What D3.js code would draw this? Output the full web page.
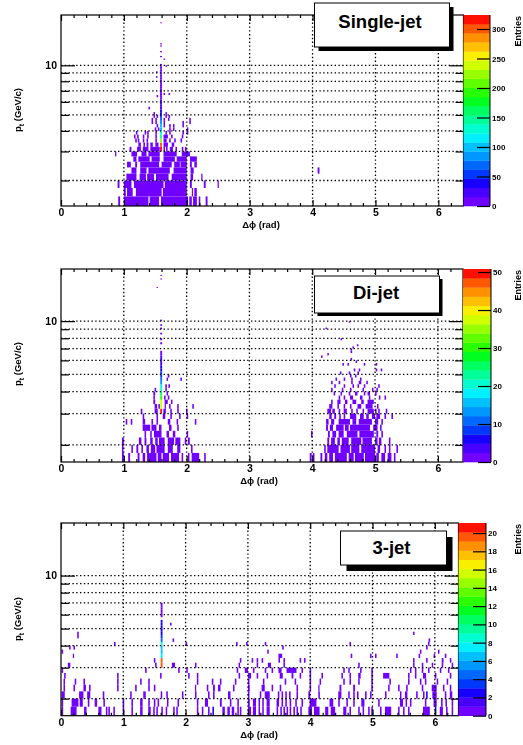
<!DOCTYPE html>
<html>
<head>
<meta charset="utf-8">
<script src="https://d3js.org/d3.v7.min.js"></script>
<style>
html, body { margin: 0; padding: 0; background: #fff; overflow: hidden; }
svg { display: block; filter: blur(0.4px); font-family: "Liberation Sans", Arial, sans-serif; font-weight: bold; }
</style>
</head>
<body>
<svg width="523" height="745"></svg>
<script>
// one entry = one bin (low edge in rad), [a, b] = a run of filled bins
var phiBin = 0.025, ptBin = 0.2;

var paletteColors = ["#7000ff","#4800ff","#1800ff","#0038ff","#0068ff","#0098ff","#00c0ff","#00f0ff","#00ffd0","#00ff98",
	"#00ff60","#00ff20","#28ff00","#60ff00","#98ff00","#d0ff00","#f8f000","#ffc000","#ff9000","#ff5800","#ff1000"];

var xMajor = [0, 1, 2, 3, 4, 5, 6];
var xMinor = [0.2,0.4,0.6,0.8,1.2,1.4,1.6,1.8,2.2,2.4,2.6,2.8,3.2,3.4,3.6,3.8,4.2,4.4,4.6,4.8,5.2,5.4,5.6,5.8,6.2];
var ptTicks = [2, 3, 4, 5, 6, 7, 8, 9, 10];

var singleJetPt = [1.4,1.6,1.8,2.0,2.2,2.4,2.6,2.8,3.0,3.2,3.4,3.6,3.8,4.0,4.2,4.4,4.6,4.8,5.0,5.4,6.4,6.6,8.4,9.0,9.8,10.8];
var singleJetCells = [
	[[0.91,0.94],[1.0,1.39],[1.41,1.56],[1.59,2.02],[2.04,2.08],[2.1,2.16],2.19,[2.3,2.33]],
	[[1.0,1.03],[1.05,1.14],[1.19,1.6],[1.62,2.0],[2.08,2.1],[2.12,2.16]],
	[[0.9,0.93],[1.0,1.12],[1.16,1.63],[1.65,2.0],[2.05,2.08],[2.27,2.3],[2.49,2.51]],
	[[1.04,1.2],[1.25,1.35],[1.37,1.48],[1.51,1.71],[1.76,2.0],[2.06,2.1],[2.23,2.25]],
	[[1.12,1.2],[1.26,1.36],[1.39,1.73],[1.79,2.0],[2.06,2.11],[4.08,4.11]],
	[[1.05,1.11],[1.18,1.21],[1.26,1.56],[1.6,1.76],[1.8,1.89],[1.9,2.0],[2.05,2.08],[2.12,2.16]],
	[[1.15,1.2],[1.23,1.41],[1.44,1.57],[1.63,1.81],[1.84,2.0],[2.05,2.16]],
	[[0.86,0.88],[1.12,1.21],[1.28,1.36],[1.39,1.57],[1.63,1.84],[1.92,2.05]],
	[[1.09,1.12],[1.21,1.27],[1.3,1.39],[1.42,1.57],1.63,1.67,[1.73,1.78],1.82,1.92,1.97],
	[[1.23,1.27],1.31,[1.36,1.39],[1.42,1.46],[1.5,1.55],[1.63,1.7],[1.76,1.8]],
	[1.18,1.22,1.3,1.36,1.5,[1.63,1.68],1.72,1.8,1.9],
	[1.16,1.21,1.3,1.37,1.5,[1.63,1.7],1.75,1.92],
	[1.19,1.33,1.37,1.5,1.66,1.72,1.93,2.0],
	[1.49,1.54,1.72,1.78,2.0],
	[1.52,1.63,1.72,1.78,1.93],
	[1.44,1.5,1.63,1.93,2.04],
	[1.44,1.5,1.63,1.7,2.04],
	[1.47,1.52,1.66,1.71],
	[1.47,1.66],
	[1.39],
	[1.52],
	[1.63,1.71],
	[1.51],
	[1.51],
	[1.66],
	[1.63]
];
var singleJetPeakPt = [3.0,3.2,3.4,3.6,3.8,4.0,4.2,4.4,4.6,4.8,5.0,5.2,5.4,5.6,5.8,6.0,6.2,6.4,6.6,6.8,7.0,7.2,7.4,7.6,7.8,8.0,8.2,8.4,8.6,8.8,9.0,9.2,9.4,9.6,9.8,10.0,11.2,12.0,13.0,13.4,18.0];
var singleJetPeakCount = [320,300,220,150,125,105,100,85,65,50,40,35,30,22,20,20,15,15,14,14,14,12,12,10,8,8,8,6,6,6,6,5,5,5,4,3,2,2,2,2,2];

var diJetPt = [1.6,1.8,2.0,2.2,2.4,2.6,2.8,3.0,3.2,3.4,3.6,3.8,4.0,4.2,4.4,4.6,4.8,5.0,5.2,5.6,5.8,6.0,6.2,6.4,6.6,6.8,7.0,7.2,7.8,9.0,9.8,15.4];
var diJetCells = [
	[[0.97,1.0],[1.07,1.1],[1.22,1.25],[1.3,1.34],[1.37,1.52],[1.54,1.6],[1.62,1.72],[1.75,1.88],1.92,2.02,[2.08,2.2],2.28,
		[3.96,3.99],4.01,[4.13,4.16],[4.2,4.24],[4.27,4.33],[4.36,4.55],[4.58,4.66],[4.68,4.82],[4.84,5.0],[5.02,5.06],[5.1,5.16],[5.2,5.26],5.3],
	[0.97,1.12,[1.2,1.23],1.28,[1.36,1.4],[1.43,1.5],[1.52,1.65],[1.7,1.78],[1.85,1.9],2.07,
		4.19,[4.24,4.42],[4.45,4.6],[4.62,4.75],[4.78,5.0],[5.04,5.08],5.15,5.22,5.34],
	[[0.97,1.0],[1.24,1.28],[1.33,1.36],[1.42,1.46],[1.5,1.54],[1.56,1.65],[1.7,1.8],[1.82,1.9],1.97,[2.02,2.05],
		[4.24,4.27],[4.3,4.36],[4.4,4.44],[4.47,4.58],[4.62,4.78],[4.8,4.95],[5.0,5.04],[5.06,5.1],5.22],
	[1.33,1.42,[1.48,1.6],[1.68,1.72],[1.78,1.82],2.0,
		3.98,[4.25,4.28],[4.32,4.38],[4.42,4.5],[4.55,4.72],[4.75,4.98],[5.02,5.05],5.1],
	[[1.3,1.42],[1.44,1.52],[1.56,1.6],[1.72,1.76],1.85,
		[4.22,4.25],[4.28,4.33],[4.38,4.5],[4.52,4.58],[4.6,4.92],[4.97,5.04],5.08],
	[1.03,1.11,[1.3,1.34],1.44,1.52,[1.7,1.74],1.84,2.13,
		[4.22,4.26],[4.3,4.35],[4.42,4.6],[4.64,4.7],[4.74,4.95],[5.0,5.05],5.1],
	[1.3,1.52,[1.62,1.66],1.74,1.88,2.0,
		[4.27,4.31],[4.35,4.38],4.43,4.5,[4.6,4.7],[4.76,4.82],[4.86,4.9],[4.95,5.0],[5.02,5.08],5.15,5.26],
	[1.27,[1.49,1.54],[1.63,1.67],1.74,1.85,1.99,
		[4.24,4.3],[4.32,4.36],4.42,[4.5,4.55],4.62,4.7,4.8,[4.88,4.98],5.0,5.05,5.17],
	[[1.49,1.53],1.55,[1.65,1.67],1.72,1.85,2.09,
		[4.27,4.32],4.4,4.5,4.6,[4.72,4.78],[4.85,4.96],5.03],
	[[1.47,1.5],[1.65,1.7],1.75,
		4.3,[4.4,4.45],[4.52,4.56],[4.64,4.7],[4.78,4.82],[4.88,4.98]],
	[1.47,1.64,1.7, 4.42,4.5,[4.6,4.65],[4.76,4.8],4.9,5.06,5.15],
	[[1.47,1.5],1.68, 4.34,4.45,4.58,[4.68,4.72],4.82,[4.88,4.92],5.0],
	[1.49,1.66, 4.3,4.47,4.6,4.8,4.95,5.02],
	[1.66,1.71, 4.35,4.5,4.64,4.72,4.82,5.05],
	[4.3,4.42,4.62,[4.74,4.78],4.86],
	[1.68,1.9, 4.37,4.5,4.62,4.76],
	[1.7, 4.6,4.68],
	[4.58,4.44,4.72],
	[4.66,4.74,5.01,5.09],
	[4.48,4.56,4.82,5.01],
	[4.69],
	[4.61],
	[4.14],
	[4.24],
	[4.61],
	[4.61],
	[4.64],
	[4.71],
	[4.45],
	[4.21],
	[4.58],
	[1.52]
];
var diJetPeakPt = [3.0,3.2,3.4,3.6,3.8,4.0,4.2,4.4,4.6,4.8,5.0,5.2,5.4,5.6,5.8,6.0,6.2,6.4,6.6,7.4,7.8,8.4,9.0,9.4,10.0,18.0,17.2];
var diJetPeakCount = [50,38,38,30,26,20,17,14,11,9,8,6,6,4,4,3,3,2,2,1,1,1,1,1,1,1,1];

var threeJetPt = [1.6,1.8,2.0,2.2,2.4,2.6,2.8,3.0,3.2,3.4,3.6,3.8,4.0,4.2,4.4,4.6,5.2];
var threeJetCells = [
	[0.01,[0.155,0.25],[0.37,0.41],[0.6,0.65],0.72,0.76,0.84,0.99,1.13,[1.27,1.31],[1.4,1.44],1.48,1.53,1.61,1.68,1.8,1.85,2.18,2.26,2.36,
		[2.59,2.63],[2.67,2.71],[2.74,2.78],2.83,2.87,[3.0,3.05],[3.08,3.13],3.17,3.23,[3.3,3.35],3.46,3.52,3.57,3.62,3.67,3.73,3.78,3.84,[3.97,4.03],[4.06,4.15],
		[4.24,4.29],[4.33,4.4],[4.53,4.58],4.63,4.77,4.84,4.93,4.98,5.12,[5.2,5.3],5.41,5.49,5.57,[5.81,5.92],[6.08,6.13],6.18,6.27],
	[0.01,[0.17,0.28],[0.3,0.35],0.43,[0.54,0.58],0.68,0.99,1.13,[1.27,1.31],1.4,1.49,1.55,1.7,1.87,2.18,[2.31,2.36],[2.55,2.58],2.71,2.83,
		[3.0,3.03],[3.08,3.13],3.17,3.23,[3.3,3.35],[3.46,3.5],3.54,3.6,3.67,3.76,3.86,[3.99,4.1],[4.31,4.37],4.45,4.58,4.69,[4.82,4.87],5.09,
		[5.44,5.49],5.53,5.6,5.84,[5.98,6.03],6.1,6.17,6.27],
	[[0.01,0.06],[0.29,0.36],[0.42,0.47],0.67,1.11,[1.32,1.36],1.6,1.69,1.94,2.15,2.36,2.44,[2.68,2.72],3.0,3.19,[3.27,3.35],3.48,3.54,3.6,3.66,3.78,[3.97,4.0],4.13,
		[4.45,4.5],4.61,4.69,4.75,4.88,4.96,5.2,5.44,[5.52,5.56],5.7,5.81,[5.96,6.03],6.16,[6.24,6.28]],
	[0.04,0.2,[0.36,0.4],0.45,0.9,1.19,1.4,1.49,[2.15,2.17],2.34,[2.44,2.47],[2.52,2.56],2.76,[3.0,3.03],[3.22,3.27],3.38,3.51,3.78,3.99,[4.13,4.15],
		[4.47,4.5],[4.69,4.72],4.98,5.25,5.41,5.54,5.79,[5.95,6.03],6.13,6.24],
	[0.04,0.22,0.36,0.9,1.27,1.4,2.18,2.42,2.55,2.79,3.0,3.24,3.59,3.75,3.99,4.15,4.53,4.63,4.77,4.98,5.27,5.57,5.76,5.84,6.03,6.19],
	[0.05,0.9,1.59,2.04,2.18,2.85,[3.0,3.05],3.14,3.3,[3.51,3.56],[3.7,3.73],3.83,3.99,4.18,4.5,4.63,[4.77,4.81],4.98,[5.17,5.27],5.57,5.68,[5.81,5.86],6.0,6.24],
	[0.01,1.35,1.88,2.01,2.82,[2.95,3.0],3.08,3.27,3.38,[3.49,3.54],[3.62,3.78],3.86,3.99,4.53,4.61,4.8,4.98,5.6,5.68,5.79,5.89,6.08,6.21],
	[[0.11,0.15],1.51,[1.78,1.83],2.15,2.85,3.14,[3.32,3.37],3.57,4.77,5.65,5.79,5.95,6.11,6.27],
	[1.49,2.87,3.06,3.14,3.22,3.49,3.57,3.83,3.9,5.65,5.86,[6.11,6.14],6.24],
	[[0.19,0.21],[3.49,3.55],4.65,4.96,5.04,5.38,5.74,5.98,6.16],
	[0.01,3.31,5.76,6.05],
	[0.13,0.2,3.55,5.86],
	[0.85,2.0,2.81,2.97,3.27,4.63,5.89],
	[1.79,5.9],
	[0.26],
	[0.26,5.65],
	[1.75]
];
var threeJetPeakPt = [3.0,3.2,3.4,3.6,3.8,4.0,4.2,4.4,4.6,4.8,5.0,5.2,5.4,5.8,6.0,6.2,6.4,6.6,6.8];
var threeJetPeakCount = [20,20,8,7,7,9,5,4,3,3,3,3,3,1,1,1,1,1,1];
// bins with more than one entry away from the peak
var threeJetHotPhi = [2.43, 6.0, 5.86];
var threeJetHotPt = [1.6, 1.6, 2.0];
var threeJetHotCount = [3, 3, 3];

var svg = d3.select("svg");

function cellRuns(row){
	return row.map(function(c){
		return Array.isArray(c) ? c : [c, c + phiBin];
	});
}

function drawPanel(p){
	var x = d3.scaleLinear().domain([0, p.phiMax]).range([p.left, p.right]);
	var y = d3.scaleLog().domain([p.ptMin, p.ptMax]).range([p.bottom, p.top]);
	var z = d3.scaleLinear().domain([0, p.zMax]).range([p.bottom, p.top]);
	var color = d3.scaleQuantize().domain([0, p.zMax]).range(paletteColors);
	var g = svg.append("g");

	// cells
	var cells = [];
	p.pts.forEach(function(pt, i){
		cellRuns(p.cells[i]).forEach(function(r){
			cells.push({a: r[0], b: r[1], pt: pt, n: 1});
		});
	});
	p.peakPt.forEach(function(pt, i){
		cells.push({a: p.peakPhi, b: p.peakPhi + 0.03, pt: pt, n: p.peakCount[i]});
	});
	(p.hotPhi || []).forEach(function(phi, i){
		cells.push({a: phi, b: phi + phiBin, pt: p.hotPt[i], n: p.hotCount[i]});
	});
	g.append("g").selectAll("rect")
		.data(cells)
		.enter()
		.append("rect")
		.attr("x", function(d){ return x(d.a); })
		.attr("width", function(d){ return x(d.b) - x(d.a); })
		.attr("y", function(d){ return y(d.pt + ptBin); })
		.attr("height", function(d){ return y(d.pt) - y(d.pt + ptBin); })
		.attr("fill", function(d){ return color(d.n); });

	// dotted grid
	g.append("g").selectAll("line")
		.data(xMajor.slice(1))
		.enter()
		.append("line")
		.attr("x1", function(d){ return x(d); })
		.attr("x2", function(d){ return x(d); })
		.attr("y1", p.top)
		.attr("y2", p.bottom)
		.attr("stroke", "#000")
		.attr("stroke-width", 1.3)
		.attr("stroke-dasharray", "1.4,2.4");
	g.append("g").selectAll("line")
		.data(ptTicks)
		.enter()
		.append("line")
		.attr("x1", p.left)
		.attr("x2", p.right)
		.attr("y1", function(d){ return y(d); })
		.attr("y2", function(d){ return y(d); })
		.attr("stroke", "#000")
		.attr("stroke-width", 1.3)
		.attr("stroke-dasharray", "1.4,2.4");

	// frame
	g.append("rect")
		.attr("x", p.left)
		.attr("y", p.top)
		.attr("width", p.right - p.left)
		.attr("height", p.bottom - p.top)
		.attr("fill", "none")
		.attr("stroke", "#000")
		.attr("stroke-width", 1.2);

	// axes
	function styleAxis(a){
		a.select(".domain").remove();
		a.selectAll("line").attr("stroke", "#000").attr("stroke-width", 1.2);
		a.selectAll("text").attr("fill", "#000").attr("font-size", 10.5).attr("font-weight", "bold").attr("font-family", "Liberation Sans");
	}
	g.append("g").attr("transform", "translate(0," + p.bottom + ")")
		.call(d3.axisBottom(x).tickValues(xMajor).tickFormat(d3.format("d")).tickSizeInner(-6).tickPadding(3))
		.call(styleAxis);
	g.append("g").attr("transform", "translate(0," + p.bottom + ")")
		.call(d3.axisBottom(x).tickValues(xMinor).tickFormat("").tickSizeInner(-3))
		.call(styleAxis);
	g.append("g").attr("transform", "translate(0," + p.top + ")")
		.call(d3.axisTop(x).tickValues(xMajor).tickFormat("").tickSizeInner(-6))
		.call(styleAxis);
	g.append("g").attr("transform", "translate(0," + p.top + ")")
		.call(d3.axisTop(x).tickValues(xMinor).tickFormat("").tickSizeInner(-3))
		.call(styleAxis);
	g.append("g").attr("transform", "translate(" + p.left + ",0)")
		.call(d3.axisLeft(y).tickValues(ptTicks.slice(0, -1)).tickFormat("").tickSizeInner(-8))
		.call(styleAxis);
	g.append("g").attr("transform", "translate(" + p.left + ",0)")
		.call(d3.axisLeft(y).tickValues([10]).tickFormat(d3.format("d")).tickSizeInner(-14).tickPadding(4))
		.call(styleAxis);
	g.append("g").attr("transform", "translate(" + p.right + ",0)")
		.call(d3.axisRight(y).tickValues(ptTicks.slice(0, -1)).tickFormat("").tickSizeInner(-8))
		.call(styleAxis);
	g.append("g").attr("transform", "translate(" + p.right + ",0)")
		.call(d3.axisRight(y).tickValues([10]).tickFormat("").tickSizeInner(-14))
		.call(styleAxis);

	// palette
	var band = (p.bottom - p.top) / paletteColors.length;
	g.append("g").selectAll("rect")
		.data(paletteColors)
		.enter()
		.append("rect")
		.attr("x", p.right)
		.attr("width", p.zRight - p.right)
		.attr("y", function(d, i){ return z(color.invertExtent(d)[1]); })
		.attr("height", band + 0.3)
		.attr("fill", function(d){ return d; });
	g.append("g").attr("transform", "translate(" + p.zRight + ",0)")
		.call(d3.axisRight(z).tickValues(p.zTicks).tickFormat(d3.format("d")).tickSizeInner(-13).tickPadding(2))
		.call(function(a){
			a.select(".domain").remove();
			a.selectAll("line").attr("stroke", "#000").attr("stroke-width", 1.2);
			a.selectAll("text").attr("fill", "#000").attr("font-size", 8).attr("font-weight", "bold").attr("font-family", "Liberation Sans");
		});
	g.append("line")
		.attr("x1", p.zRight).attr("x2", p.zRight)
		.attr("y1", p.top).attr("y2", p.bottom)
		.attr("stroke", "#000");

	// labels
	g.append("text")
		.attr("x", p.xLabelX)
		.attr("y", p.bottom + 22)
		.attr("text-anchor", "middle")
		.attr("font-size", 9.5)
		.text("Δϕ (rad)");
	var yl = g.append("text")
		.attr("transform", "translate(21," + p.yLabelY + ") rotate(-90)")
		.attr("text-anchor", "middle")
		.attr("font-size", 9.5);
	yl.append("tspan").text("p");
	yl.append("tspan").attr("font-size", 7).attr("dy", 2.5).text("t");
	yl.append("tspan").attr("dy", -2.5).text(" (GeV/c)");
	g.append("text")
		.attr("transform", "translate(" + p.entriesX + "," + (p.top + 1) + ") rotate(-90)")
		.attr("text-anchor", "end")
		.attr("font-size", 9)
		.text("Entries");

	// title box
	g.append("rect")
		.attr("x", p.box[0] + p.shadow)
		.attr("y", p.box[1] + p.shadow)
		.attr("width", p.box[2])
		.attr("height", p.box[3])
		.attr("fill", "#000");
	g.append("rect")
		.attr("x", p.box[0])
		.attr("y", p.box[1])
		.attr("width", p.box[2])
		.attr("height", p.box[3])
		.attr("fill", "#fff")
		.attr("stroke", "#000");
	g.append("text")
		.attr("x", p.box[0] + p.box[2] / 2 + p.titleDx)
		.attr("y", p.titleY)
		.attr("text-anchor", "middle")
		.attr("font-size", 18.5)
		.text(p.title);
}

drawPanel({
	title: "Single-jet", pts: singleJetPt, cells: singleJetCells, peakPt: singleJetPeakPt, peakCount: singleJetPeakCount, peakPhi: 1.575,
	left: 61, right: 463.5, top: 15, bottom: 206, phiMax: 6.4, ptMin: 1.4, ptMax: 20.2,
	zRight: 490, zMax: 323.7, zTicks: [0, 50, 100, 150, 200, 250, 300],
	box: [314.5, 3, 135, 44], shadow: 4, titleDx: -2, titleY: 28, entriesX: 521, xLabelX: 261, yLabelY: 110
});
drawPanel({
	title: "Di-jet", pts: diJetPt, cells: diJetCells, peakPt: diJetPeakPt, peakCount: diJetPeakCount, peakPhi: 1.58,
	left: 61, right: 463, top: 269, bottom: 462, phiMax: 6.4, ptMin: 1.6, ptMax: 19.7,
	zRight: 491, zMax: 50.8, zTicks: [0, 10, 20, 30, 40, 50],
	box: [314.5, 276, 125, 37], shadow: 3, titleDx: -1, titleY: 299, entriesX: 521, xLabelX: 259, yLabelY: 364
});
drawPanel({
	title: "3-jet", pts: threeJetPt, cells: threeJetCells, peakPt: threeJetPeakPt, peakCount: threeJetPeakCount, peakPhi: 1.6,
	hotPhi: threeJetHotPhi, hotPt: threeJetHotPt, hotCount: threeJetHotCount,
	left: 61, right: 458.5, top: 523, bottom: 715.7, phiMax: 6.38, ptMin: 1.6, ptMax: 19.9,
	zRight: 486, zMax: 21.1, zTicks: d3.range(0, 21, 2),
	box: [340.5, 531, 106, 34], shadow: 6, titleDx: -2, titleY: 554, entriesX: 521, xLabelX: 259, yLabelY: 619
});
</script>
</body>
</html>
